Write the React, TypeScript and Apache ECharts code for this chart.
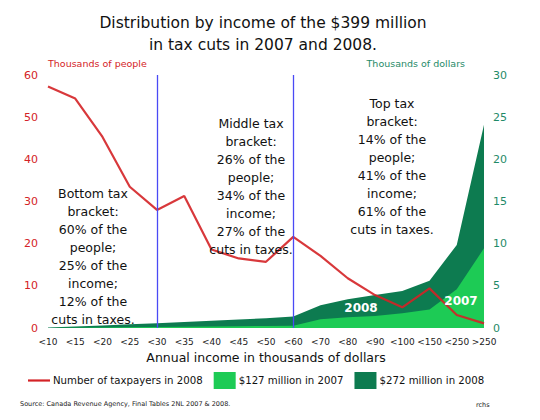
import React, { useEffect, useRef } from "react";
import * as echarts from "echarts";

const categories = ["<10", "<15", "<20", "<25", "<30", "<35", "<40", "<45", "<50", "<60", "<70", "<80", "<90", "<100", "<150", "<250", ">250"];
const taxpayers2008 = [57.3, 54.4, 45.3, 33.5, 28.0, 31.3, 18.6, 16.5, 15.7, 21.6, 17.1, 11.8, 7.8, 4.9, 9.4, 3.1, 1.1];
const cuts2007 = [0.0, 0.03, 0.06, 0.09, 0.12, 0.15, 0.18, 0.21, 0.24, 0.26, 1.03, 1.27, 1.42, 1.74, 2.2, 4.6, 9.45];
const cuts2008 = [0.05, 0.18, 0.3, 0.43, 0.55, 0.7, 0.85, 1.0, 1.15, 1.35, 2.7, 3.4, 3.9, 4.4, 5.6, 9.85, 24.1];
const leftTicks = { min: 0, max: 60, interval: 10 };
const rightTicks = { min: 0, max: 30, interval: 5 };
const bracketEdges = ["<30", "<60"];

const FONT = "DejaVu Sans";
const RED = "#d42226";
const LIGHT = "#1dcb55";
const DARK = "#0d7b50";
const TEAL = "#1f8a68";
const BLUE = "#4a4af5";

export default function App() {
  const ref = useRef<HTMLDivElement>(null);
  useEffect(() => {
    if (!ref.current) return;
    const chart = echarts.init(ref.current, null, { renderer: "svg" });
    const annot = (x: number, y: number, text: string) => ({
      type: "text",
      x,
      y,
      z: 5,
      style: {
        text,
        fontFamily: FONT,
        fontSize: 12.5,
        lineHeight: 18,
        fill: "#111",
        align: "center",
        verticalAlign: "top",
      },
    });
    chart.setOption({
      animation: false,
      textStyle: { fontFamily: FONT },
      title: {
        text: "Distribution by income of the $399 million\nin tax cuts in 2007 and 2008.",
        left: 258,
        textAlign: "center",
        top: 7,
        textStyle: { fontFamily: FONT, fontSize: 15.5, fontWeight: "normal", color: "#111", lineHeight: 22 },
      },
      grid: { left: 48, right: 56, top: 75, bottom: 92 },
      legend: {
        bottom: 26,
        left: 23,
        itemGap: 11,
        itemWidth: 22,
        itemHeight: 17,
        textStyle: { fontFamily: FONT, fontSize: 10.2, color: "#111", padding: [0, 0, 0, -2] },
        data: [
          { name: "Number of taxpayers in 2008", icon: "path://M0 0H20V2H0Z", itemStyle: { color: RED } },
          { name: "$127 million in 2007", icon: "rect" },
          { name: "$272 million in 2008", icon: "rect" },
        ],
      },
      xAxis: {
        type: "category",
        data: categories,
        boundaryGap: false,
        axisLine: { show: false },
        axisTick: { show: false },
        splitLine: { show: false },
        axisLabel: { fontFamily: FONT, fontSize: 9, color: "#222", margin: 9, interval: 0 },
        name: "Annual income in thousands of dollars",
        nameLocation: "middle",
        nameGap: 23,
        nameTextStyle: { fontFamily: FONT, fontSize: 12.5, color: "#111" },
      },
      yAxis: [
        {
          type: "value",
          ...leftTicks,
          splitLine: { show: false },
          axisLine: { show: false },
          axisTick: { show: false },
          axisLabel: { fontFamily: FONT, fontSize: 11, color: RED, margin: 10 },
          name: "Thousands of people",
          nameLocation: "end",
          nameGap: 7,
          nameTextStyle: { fontFamily: FONT, fontSize: 9.5, color: RED, align: "left" },
        },
        {
          type: "value",
          ...rightTicks,
          position: "right",
          splitLine: { show: false },
          axisLine: { show: false },
          axisTick: { show: false },
          axisLabel: { fontFamily: FONT, fontSize: 11, color: TEAL, margin: 9 },
          name: "Thousands of dollars",
          nameLocation: "end",
          nameGap: 7,
          nameTextStyle: { fontFamily: FONT, fontSize: 9.5, color: TEAL, align: "right", padding: [0, 19, 0, 0] },
        },
      ],
      series: [
        {
          name: "$272 million in 2008",
          type: "line",
          yAxisIndex: 1,
          data: cuts2008,
          symbol: "none",
          itemStyle: { color: DARK },
          lineStyle: { width: 0 },
          areaStyle: { color: DARK, opacity: 1 },
          z: 1,
        },
        {
          name: "$127 million in 2007",
          type: "line",
          yAxisIndex: 1,
          data: cuts2007,
          symbol: "none",
          itemStyle: { color: LIGHT },
          lineStyle: { width: 0 },
          areaStyle: { color: LIGHT, opacity: 1 },
          z: 2,
          markLine: {
            silent: true,
            symbol: "none",
            label: { show: false },
            lineStyle: { color: BLUE, width: 1.3, type: "solid", opacity: 1 },
            data: bracketEdges.map((c) => ({ xAxis: c })),
          },
        },
        {
          name: "Number of taxpayers in 2008",
          type: "line",
          yAxisIndex: 0,
          data: taxpayers2008,
          symbol: "none",
          itemStyle: { color: RED },
          lineStyle: { color: RED, width: 2.2, opacity: 0.9 },
          z: 4,
        },
      ],
      graphic: [
        annot(93, 184, "Bottom tax\nbracket:\n60% of the\npeople;\n25% of the\nincome;\n12% of the\ncuts in taxes."),
        annot(251, 114, "Middle tax\nbracket:\n26% of the\npeople;\n34% of the\nincome;\n27% of the\ncuts in taxes."),
        annot(392, 94, "Top tax\nbracket:\n14% of the\npeople;\n41% of the\nincome;\n61% of the\ncuts in taxes."),
        {
          type: "text",
          x: 361,
          y: 308,
          z: 10,
          style: { text: "2008", fontFamily: FONT, fontSize: 12, fontWeight: "bold", fill: "#fff", align: "center", verticalAlign: "middle" },
        },
        {
          type: "text",
          x: 461,
          y: 301,
          z: 10,
          style: { text: "2007", fontFamily: FONT, fontSize: 12, fontWeight: "bold", fill: "#fff", align: "center", verticalAlign: "middle" },
        },
        {
          type: "text",
          x: 20,
          y: 404,
          style: { text: "Source: Canada Revenue Agency, Final Tables 2NL 2007 & 2008.", fontFamily: FONT, fontSize: 6.5, fill: "#222", verticalAlign: "middle" },
        },
        {
          type: "text",
          x: 476,
          y: 405,
          style: { text: "rchs", fontFamily: FONT, fontSize: 6.5, fill: "#222", verticalAlign: "middle" },
        },
      ],
    });
    return () => chart.dispose();
  }, []);
  return <div ref={ref} style={{ position: "absolute", left: 0, top: 0, width: 540, height: 420 }} />;
}
